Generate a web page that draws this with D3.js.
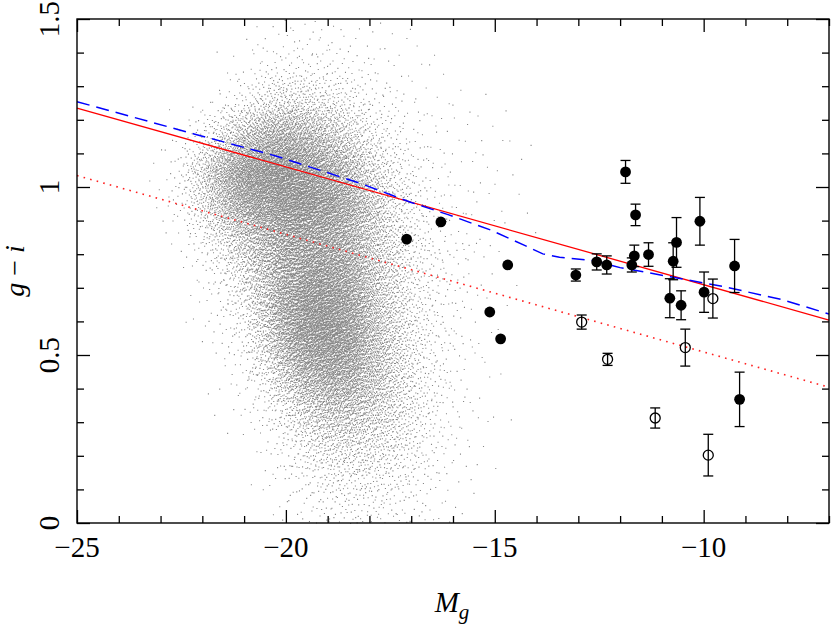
<!DOCTYPE html>
<html>
<head>
<meta charset="utf-8">
<script src="https://cdn.jsdelivr.net/npm/d3@7"></script>
<style>
  body { margin: 0; background: #fff; }
  svg { display: block; }
  text { font-family: "Liberation Serif", "DejaVu Serif", serif; fill: #000; }
</style>
</head>
<body>
<div id="chart"></div>
<script>
// ---- data ----

// filled points: M_g, g-i, error
var fillX   = [-17.11, -16.29, -14.69, -15.12, -14.86, -13.06, -12.56, -12.32, -11.87, -11.63, -11.66, -11.72, -11.32, -10.65, -10.73, -10.09, -10.81, -10.54, -9.99, -9.26, -9.14];
var fillY   = [0.845, 0.896, 0.768, 0.628, 0.548, 0.738, 0.777, 0.768, 1.045, 0.917, 0.795, 0.768, 0.799, 0.835, 0.779, 0.898, 0.669, 0.648, 0.687, 0.765, 0.368];
var fillErr = [0, 0, 0, 0, 0, 0.018, 0.024, 0.027, 0.034, 0.032, 0.032, 0.021, 0.035, 0.074, 0.055, 0.071, 0.058, 0.043, 0.060, 0.079, 0.081];

// open points
var openX   = [-12.92, -12.30, -10.44, -11.16, -9.89, -9.78];
var openY   = [0.598, 0.487, 0.522, 0.3125, 0.202, 0.668];
var openErr = [0.021, 0.018, 0.055, 0.030, 0.062, 0.058];

// red relations (solid and dotted), end points
var redSolidX = [-25, -7], redSolidY = [1.235, 0.604];
var redDotX   = [-25, -7], redDotY   = [1.034, 0.404];

// blue dashed curve
var blueX = [-25, -22.2, -20.2, -18.2, -17.0, -16.1, -15.1, -14.3, -13.85, -13.45, -12.65, -12.0, -10.8, -9.5, -8.1, -7.0];
var blueY = [1.254, 1.158, 1.091, 1.010, 0.954, 0.917, 0.872, 0.827, 0.801, 0.791, 0.781, 0.760, 0.733, 0.703, 0.664, 0.622];

// background galaxy cloud: relative density read per 0.5 mag x 0.1 cell
var cloudX = [-23.5, -23, -22.5, -22, -21.5, -21, -20.5, -20, -19.5, -19, -18.5, -18, -17.5, -17, -16.5, -16, -15.5, -15, -14.5, -14, -13.5, -13];
var cloudY = [1.45, 1.35, 1.25, 1.15, 1.05, 0.95, 0.85, 0.75, 0.65, 0.55, 0.45, 0.35, 0.25, 0.15, 0.05];
var cloudDensity = [
  [0, 0, 0, 0, 0, 0.02, 0.06, 0.1, 0.12, 0.1, 0.07, 0.05, 0.04, 0.02, 0.01, 0, 0, 0, 0, 0, 0, 0],
  [0, 0, 0, 0, 0.02, 0.08, 0.25, 0.35, 0.35, 0.3, 0.22, 0.14, 0.08, 0.05, 0.03, 0.01, 0, 0, 0, 0, 0, 0],
  [0, 0, 0, 0.04, 0.18, 0.55, 1.1, 1.6, 1.5, 1.1, 0.7, 0.35, 0.18, 0.1, 0.06, 0.04, 0.03, 0.02, 0.01, 0, 0, 0],
  [0, 0.02, 0.1, 0.55, 1.6, 3.3, 5.0, 5.5, 4.6, 3.2, 2.0, 0.9, 0.4, 0.18, 0.1, 0.06, 0.04, 0.03, 0.02, 0.01, 0, 0],
  [0, 0.04, 0.35, 1.9, 4.6, 7.5, 9.0, 9.0, 8.0, 6.0, 4.0, 2.0, 0.9, 0.35, 0.15, 0.08, 0.06, 0.04, 0.02, 0.01, 0, 0],
  [0, 0.04, 0.3, 1.4, 3.6, 6.2, 8.0, 9.0, 9.0, 8.0, 6.0, 3.2, 1.3, 0.55, 0.22, 0.12, 0.07, 0.04, 0.02, 0.01, 0, 0],
  [0, 0.01, 0.08, 0.45, 1.4, 3.0, 5.0, 6.5, 7.0, 6.5, 5.0, 3.0, 1.6, 0.65, 0.3, 0.14, 0.07, 0.04, 0.02, 0.01, 0, 0],
  [0, 0, 0.03, 0.14, 0.55, 1.6, 3.5, 6.0, 7.5, 7.5, 6.0, 3.5, 1.8, 0.8, 0.35, 0.16, 0.07, 0.03, 0.01, 0, 0, 0],
  [0, 0, 0.01, 0.06, 0.25, 0.9, 3.0, 6.5, 9.0, 9.0, 7.0, 4.0, 2.0, 0.85, 0.38, 0.16, 0.06, 0.02, 0.01, 0, 0, 0],
  [0, 0, 0, 0.03, 0.12, 0.45, 2.0, 5.5, 8.5, 9.0, 7.5, 4.5, 2.2, 1.0, 0.42, 0.16, 0.06, 0.02, 0, 0, 0, 0],
  [0, 0, 0, 0.01, 0.06, 0.22, 1.0, 3.0, 5.5, 6.5, 6.0, 4.0, 2.2, 1.0, 0.42, 0.16, 0.06, 0.02, 0, 0, 0, 0],
  [0, 0, 0, 0, 0.03, 0.07, 0.35, 1.1, 2.5, 3.5, 3.5, 2.8, 1.8, 0.9, 0.42, 0.16, 0.06, 0.02, 0, 0, 0, 0],
  [0, 0, 0, 0, 0.01, 0.03, 0.12, 0.45, 1.0, 1.6, 1.8, 1.6, 1.2, 0.7, 0.32, 0.12, 0.05, 0.02, 0, 0, 0, 0],
  [0, 0, 0, 0, 0, 0.01, 0.06, 0.17, 0.42, 0.7, 0.8, 0.8, 0.6, 0.4, 0.2, 0.08, 0.03, 0.01, 0, 0, 0, 0],
  [0, 0, 0, 0, 0, 0, 0.02, 0.06, 0.16, 0.3, 0.35, 0.35, 0.3, 0.2, 0.1, 0.04, 0.02, 0, 0, 0, 0, 0]
];
var cloudCount = 26000;

// tick labels
var xTickVals = [-25, -20, -15, -10];
var yTickVals = [0, 0.5, 1, 1.5];

// ---- layout ----
var W = 831, H = 624;
var margin = { top: 19, right: 2, bottom: 101, left: 77 };

var x = d3.scaleLinear().domain([-25, -7]).range([margin.left, W - margin.right]);
var y = d3.scaleLinear().domain([0, 1.5]).range([H - margin.bottom, margin.top]);

var svg = d3.select("#chart").append("svg")
    .attr("width", W)
    .attr("height", H);

svg.append("rect").attr("width", W).attr("height", H).attr("fill", "#fff");

// ---- cloud ----
// the read density is turned into a fine CDF, then evenly spread (Halton 2,3)
// points are mapped through it: no random numbers, no rejection
function halton(i, b) {
    var f = 1, r = 0;
    while (i > 0) { f /= b; r += f * (i % b); i = Math.floor(i / b); }
    return r;
}
function density(xv, yv) {
    var fx = (xv - cloudX[0]) / 0.5, fy = (cloudY[0] - yv) / 0.1;
    var i0 = Math.max(0, Math.min(cloudX.length - 2, Math.floor(fx)));
    var j0 = Math.max(0, Math.min(cloudY.length - 2, Math.floor(fy)));
    var tx = Math.max(0, Math.min(1, fx - i0)), ty = Math.max(0, Math.min(1, fy - j0));
    var d = cloudDensity;
    return (d[j0][i0] * (1 - tx) + d[j0][i0 + 1] * tx) * (1 - ty) +
           (d[j0 + 1][i0] * (1 - tx) + d[j0 + 1][i0 + 1] * tx) * ty;
}
var gx0 = -23.75, gx1 = -12.75, nCols = 550, nRows = 300;
var colW = (gx1 - gx0) / nCols, rowH = 1.5 / nRows;
var colCdf = [0], rowCdfs = [];
for (var c = 0; c < nCols; c++) {
    var cum = [0], s = 0;
    for (var r = 0; r < nRows; r++) {
        s += density(gx0 + (c + 0.5) * colW, (r + 0.5) * rowH);
        cum.push(s);
    }
    rowCdfs.push(cum);
    colCdf.push(colCdf[c] + s);
}
var total = colCdf[nCols];
var bis = d3.bisector(function (d) { return d; }).right;

var pathStr = "";
for (var i = 1; i <= cloudCount; i++) {
    var t = halton(i, 2) * total;
    var ci = Math.min(nCols - 1, bis(colCdf, t) - 1);
    var fxr = (t - colCdf[ci]) / (colCdf[ci + 1] - colCdf[ci]);
    var xv = gx0 + (ci + fxr) * colW;
    var rc = rowCdfs[ci];
    var t2 = halton(i, 3) * rc[nRows];
    var ri = Math.min(nRows - 1, bis(rc, t2) - 1);
    var fyr = (t2 - rc[ri]) / ((rc[ri + 1] - rc[ri]) || 1);
    var yv = (ri + fyr) * rowH;
    pathStr += "M" + x(xv).toFixed(2) + "," + y(yv).toFixed(2) + "h1.1v1.1h-1.1z";
}
svg.append("path")
    .attr("d", pathStr)
    .attr("fill", "#888");

// ---- lines ----
var line = d3.line().x(function (d) { return x(d[0]); }).y(function (d) { return y(d[1]); });

svg.append("path")
    .datum(d3.zip(redDotX, redDotY))
    .attr("d", line)
    .attr("fill", "none")
    .attr("stroke", "#ff2020")
    .attr("stroke-width", 1.6)
    .attr("stroke-dasharray", "1.6,5.2");

svg.append("path")
    .datum(d3.zip(redSolidX, redSolidY))
    .attr("d", line)
    .attr("fill", "none")
    .attr("stroke", "#ff0000")
    .attr("stroke-width", 1.3);

svg.append("path")
    .datum(d3.zip(blueX, blueY))
    .attr("d", line)
    .attr("fill", "none")
    .attr("stroke", "#0000ff")
    .attr("stroke-width", 1.5)
    .attr("stroke-dasharray", "13,7");

// ---- points with error bars ----
var filled = d3.zip(fillX, fillY, fillErr);
var open = d3.zip(openX, openY, openErr);

function drawBars(data) {
    var g = svg.append("g").attr("stroke", "#000").attr("stroke-width", 1.3);
    data.filter(function (d) { return d[2] > 0; }).forEach(function (d) {
        var cx = x(d[0]);
        g.append("line").attr("x1", cx).attr("x2", cx).attr("y1", y(d[1] - d[2])).attr("y2", y(d[1] + d[2]));
        g.append("line").attr("x1", cx - 5).attr("x2", cx + 5).attr("y1", y(d[1] - d[2])).attr("y2", y(d[1] - d[2]));
        g.append("line").attr("x1", cx - 5).attr("x2", cx + 5).attr("y1", y(d[1] + d[2])).attr("y2", y(d[1] + d[2]));
    });
}
drawBars(open);
drawBars(filled);

svg.append("g").selectAll("circle").data(open).enter().append("circle")
    .attr("cx", function (d) { return x(d[0]); })
    .attr("cy", function (d) { return y(d[1]); })
    .attr("r", 5)
    .attr("fill", "none")
    .attr("stroke", "#000")
    .attr("stroke-width", 1.3);

svg.append("g").selectAll("circle").data(filled).enter().append("circle")
    .attr("cx", function (d) { return x(d[0]); })
    .attr("cy", function (d) { return y(d[1]); })
    .attr("r", 5.4)
    .attr("fill", "#000");

// ---- frame and inward ticks on all four sides ----
var x0 = x.range()[0], x1 = x.range()[1], y0 = y.range()[0], y1 = y.range()[1];
var xMinor = d3.range(-25, -6.99, 1), yMinor = d3.range(0, 1.501, 0.1);

function tickGroup(gen, tx, ty) {
    var g = svg.append("g").attr("transform", "translate(" + tx + "," + ty + ")").call(gen);
    g.select(".domain").remove();
    g.selectAll("line").attr("stroke", "#000").attr("stroke-width", 1.3);
    return g;
}
function isMajorX(v) { return Math.abs(v / 5 - Math.round(v / 5)) < 1e-6; }
function isMajorY(v) { return Math.abs(v / 0.5 - Math.round(v / 0.5)) < 1e-6; }

tickGroup(d3.axisBottom(x).tickValues(xMinor).tickSizeOuter(0).tickFormat("").tickSize(-7), 0, y0)
    .selectAll(".tick line").attr("y2", function (d) { return isMajorX(d) ? -13 : -7; });
tickGroup(d3.axisTop(x).tickValues(xMinor).tickSizeOuter(0).tickFormat("").tickSize(-7), 0, y1)
    .selectAll(".tick line").attr("y2", function (d) { return isMajorX(d) ? 13 : 7; });
tickGroup(d3.axisLeft(y).tickValues(yMinor).tickSizeOuter(0).tickFormat("").tickSize(-7), x0, 0)
    .selectAll(".tick line").attr("x2", function (d) { return isMajorY(d) ? 13 : 7; });
tickGroup(d3.axisRight(y).tickValues(yMinor).tickSizeOuter(0).tickFormat("").tickSize(-7), x1, 0)
    .selectAll(".tick line").attr("x2", function (d) { return isMajorY(d) ? -13 : -7; });

svg.append("rect")
    .attr("x", x0).attr("y", y1)
    .attr("width", x1 - x0).attr("height", y0 - y1)
    .attr("fill", "none")
    .attr("stroke", "#000")
    .attr("stroke-width", 1.4);

// ---- tick labels ----
svg.append("g").selectAll("text").data(xTickVals).enter().append("text")
    .attr("x", function (d) { return x(d); })
    .attr("y", 557)
    .attr("text-anchor", "middle")
    .attr("font-size", 29)
    .text(function (d) { return d < 0 ? "\u2212" + Math.abs(d) : d; });

svg.append("g").selectAll("text").data(yTickVals).enter().append("text")
    .attr("transform", function (d) { return "translate(59," + y(d) + ") rotate(-90)"; })
    .attr("text-anchor", "middle")
    .attr("font-size", 29)
    .text(function (d) { return d; });

// ---- axis titles ----
var xt = svg.append("text")
    .attr("x", 452).attr("y", 612)
    .attr("text-anchor", "middle")
    .attr("font-size", 29);
xt.append("tspan").attr("font-style", "italic").text("M");
xt.append("tspan").attr("font-style", "italic").attr("font-size", 21).attr("dy", 7).text("g");

var yt = svg.append("text")
    .attr("transform", "translate(24," + ((y0 + y1) / 2) + ") rotate(-90)")
    .attr("text-anchor", "middle")
    .attr("font-size", 28);
yt.append("tspan").attr("font-style", "italic").text("g");
yt.append("tspan").text(" \u2212 ");
yt.append("tspan").attr("font-style", "italic").text("i");
</script>
</body>
</html>
